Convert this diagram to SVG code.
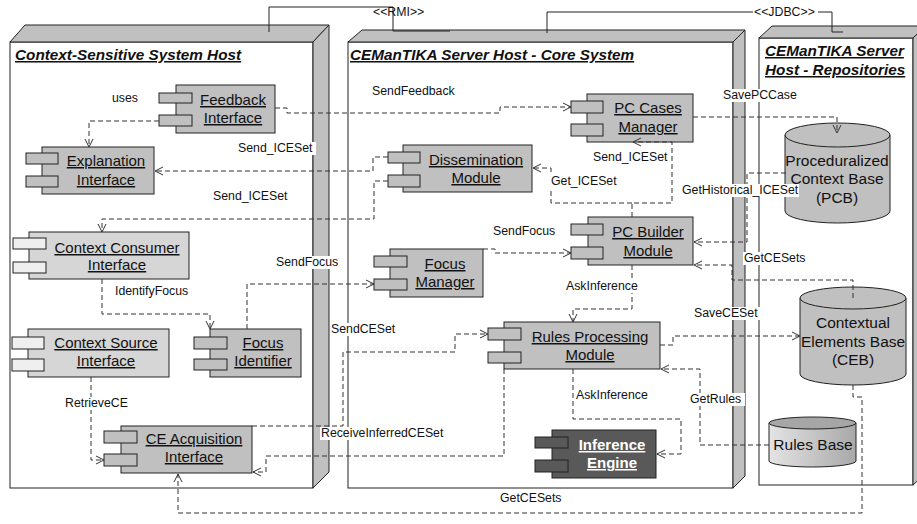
<svg xmlns="http://www.w3.org/2000/svg" width="917" height="524" viewBox="0 0 917 524">
<defs>
<marker id="arr" markerWidth="10" markerHeight="10" refX="8" refY="4" orient="auto" markerUnits="userSpaceOnUse" overflow="visible">
<path d="M0,0 L8,4 L0,8" fill="none" stroke="#333" stroke-width="1" stroke-dasharray="none"/>
</marker>
<linearGradient id="rbg" x1="0" y1="0" x2="1" y2="0">
<stop offset="0" stop-color="#e4e4e4"/>
<stop offset="1" stop-color="#a8a8a8"/>
</linearGradient>
</defs>
<style>
.host{fill:#fff;stroke:#222;stroke-width:1}
.face{fill:#c0c0c0;stroke:#222;stroke-width:1}
.cm{fill:#c0c0c0;stroke:#222;stroke-width:1}
.cl{fill:#d6d6d6;stroke:#222;stroke-width:1}
.cs{fill:#efefef;stroke:#222;stroke-width:1}
.cd{fill:#595959;stroke:#222;stroke-width:1}
.db{fill:#c0c0c0;stroke:#222;stroke-width:1}
.t{font-family:"Liberation Sans",Arial,sans-serif;font-size:15px;fill:#111;text-anchor:middle;text-decoration:underline}
.tw{font-family:"Liberation Sans",Arial,sans-serif;font-size:15px;font-weight:bold;fill:#fff;text-anchor:middle;text-decoration:underline}
.ti{font-family:"Liberation Sans",Arial,sans-serif;font-size:15.3px;font-weight:bold;font-style:italic;text-decoration:underline;fill:#111}
.dt{font-family:"Liberation Sans",Arial,sans-serif;font-size:15.5px;fill:#111;text-anchor:middle}
.l{font-family:"Liberation Sans",Arial,sans-serif;font-size:12.3px;fill:#111}
.c{fill:none;stroke:#333;stroke-width:1;stroke-dasharray:5 3}
.s{fill:none;stroke:#222;stroke-width:1}
.bg{fill:#fff}
</style>

<g id="host-css">
<rect class="host" x="10" y="42" width="303" height="446"/>
<polygon class="face" points="10,42 25,25 329,25 313,42"/>
<polygon class="face" points="313,42 329,25 329,472 313,488"/>
<text class="ti" x="15" y="60">Context-Sensitive System Host</text>
</g>

<g id="host-core">
<rect class="host" x="348" y="42" width="385" height="446"/>
<polygon class="face" points="348,42 362,30 745,30 733,42"/>
<polygon class="face" points="733,42 745,30 745,476 733,488"/>
<text class="ti" x="350" y="60">CEManTIKA Server Host - Core System</text>
</g>

<g id="host-repo">
<rect class="host" x="759" y="38" width="154" height="447"/>
<polygon class="face" points="759,38 772,26 926,26 913,38"/>
<polygon class="face" points="913,38 926,26 926,473 913,485"/>
<text class="ti" x="765" y="56">CEManTIKA Server</text>
<text class="ti" x="765" y="75">Host - Repositories</text>
</g>

<g id="feedback-interface">
<rect class="cm" x="176" y="85" width="99" height="48"/>
<rect class="cm" x="159" y="93" width="33" height="10"/>
<rect class="cm" x="159" y="115" width="33" height="11"/>
<text class="t" x="233" y="105">Feedback</text>
<text class="t" x="233" y="123">Interface</text>
</g>

<g id="explanation-interface">
<rect class="cm" x="42" y="147" width="112" height="47"/>
<rect class="cm" x="26" y="153" width="32" height="11"/>
<rect class="cm" x="26" y="176" width="32" height="11"/>
<text class="t" x="106" y="166">Explanation</text>
<text class="t" x="106" y="185">Interface</text>
</g>

<g id="context-consumer-interface">
<rect class="cl" x="29" y="232" width="160" height="47"/>
<rect class="cs" x="13" y="238" width="33" height="11"/>
<rect class="cs" x="13" y="262" width="33" height="11"/>
<text class="t" x="117" y="253">Context Consumer</text>
<text class="t" x="117" y="270">Interface</text>
</g>

<g id="context-source-interface">
<rect class="cl" x="28" y="329" width="141" height="48"/>
<rect class="cs" x="12" y="337" width="32" height="12"/>
<rect class="cs" x="12" y="359" width="32" height="12"/>
<text class="t" x="106" y="348">Context Source</text>
<text class="t" x="106" y="366">Interface</text>
</g>

<g id="focus-identifier">
<rect class="cm" x="210" y="329" width="91" height="48"/>
<rect class="cm" x="194" y="337" width="33" height="12"/>
<rect class="cm" x="194" y="359" width="33" height="11"/>
<text class="t" x="263" y="348">Focus</text>
<text class="t" x="263" y="366">Identifier</text>
</g>

<g id="ce-acquisition-interface">
<rect class="cm" x="121" y="426" width="131" height="47"/>
<rect class="cm" x="104" y="431" width="33" height="12"/>
<rect class="cm" x="104" y="454" width="33" height="12"/>
<text class="t" x="194" y="444">CE Acquisition</text>
<text class="t" x="194" y="462">Interface</text>
</g>

<g id="pc-cases-manager">
<rect class="cm" x="587" y="94" width="106" height="48"/>
<rect class="cm" x="571" y="101" width="32" height="12"/>
<rect class="cm" x="571" y="124" width="32" height="12"/>
<text class="t" x="648" y="113">PC Cases</text>
<text class="t" x="648" y="132">Manager</text>
</g>

<g id="dissemination-module">
<rect class="cm" x="403" y="145" width="129" height="47"/>
<rect class="cm" x="388" y="152" width="32" height="11"/>
<rect class="cm" x="388" y="175" width="32" height="12"/>
<text class="t" x="476" y="165">Dissemination</text>
<text class="t" x="476" y="183">Module</text>
</g>

<g id="pc-builder-module">
<rect class="cm" x="588" y="217" width="105" height="48"/>
<rect class="cm" x="571" y="224" width="32" height="11"/>
<rect class="cm" x="571" y="247" width="32" height="12"/>
<text class="t" x="648" y="237">PC Builder</text>
<text class="t" x="648" y="256">Module</text>
</g>

<g id="focus-manager">
<rect class="cm" x="390" y="249" width="93" height="48"/>
<rect class="cm" x="374" y="256" width="33" height="11"/>
<rect class="cm" x="374" y="279" width="33" height="11"/>
<text class="t" x="445" y="269">Focus</text>
<text class="t" x="445" y="287">Manager</text>
</g>

<g id="rules-processing-module">
<rect class="cm" x="504" y="322" width="156" height="47"/>
<rect class="cm" x="488" y="328" width="33" height="12"/>
<rect class="cm" x="488" y="352" width="33" height="11"/>
<text class="t" x="590" y="342">Rules Processing</text>
<text class="t" x="590" y="360">Module</text>
</g>

<g id="inference-engine">
<rect class="cd" x="552" y="430" width="104" height="48"/>
<rect class="cd" x="535" y="437" width="33" height="11"/>
<rect class="cd" x="535" y="460" width="33" height="12"/>
<text class="tw" x="612" y="450">Inference</text>
<text class="tw" x="612" y="468">Engine</text>
</g>

<g id="pcb">
<path class="db" d="M785,135 V211 A52.5,12 0 0 0 890,211 V135 Z"/>
<ellipse class="db" cx="837.5" cy="135" rx="52.5" ry="12"/>
<text class="dt" x="837" y="166">Proceduralized</text>
<text class="dt" x="837" y="184">Context Base</text>
<text class="dt" x="837" y="203">(PCB)</text>
</g>

<g id="ceb">
<path class="db" d="M800,298 V374 A53,11 0 0 0 906,374 V298 Z"/>
<ellipse class="db" cx="853" cy="298" rx="53" ry="11"/>
<text class="dt" x="853" y="328">Contextual</text>
<text class="dt" x="853" y="347">Elements Base</text>
<text class="dt" x="853" y="365">(CEB)</text>
</g>

<g id="rules-base">
<path d="M769,423 V461 A43.5,6 0 0 0 856,461 V423 Z" fill="url(#rbg)" stroke="#222"/>
<ellipse cx="812.5" cy="423" rx="43.5" ry="6" fill="#a6a6a6" stroke="#222"/>
<text class="dt" x="813" y="450">Rules Base</text>
</g>

<g id="connectors">
<path class="s" d="M269,32 V7 H393 V31 H450"/>
<path class="s" d="M547,33 V12 H832 V32 H843"/>
<path class="c" marker-end="url(#arr)" d="M159,121 H89 V147"/>
<path class="c" marker-end="url(#arr)" d="M275,108 H287 V113 H500 V107 H571"/>
<path class="c" marker-end="url(#arr)" d="M693,117 H837 V133"/>
<path class="c" marker-end="url(#arr)" d="M632,217 V203 H672 V142 H633"/>
<path class="c" marker-end="url(#arr)" d="M632,203 H551 V168 H533"/>
<path class="c" marker-end="url(#arr)" d="M388,157 H373 V171 H155"/>
<path class="c" marker-end="url(#arr)" d="M388,181 H374 V219 H102 V232"/>
<path class="c" marker-end="url(#arr)" d="M102,279 V314 H210 V329"/>
<path class="c" marker-end="url(#arr)" d="M247,329 V284 H374"/>
<path class="c" marker-end="url(#arr)" d="M483,249 H495 V253 H571"/>
<path class="c" marker-end="url(#arr)" d="M632,265 V309 H573 V322"/>
<path class="c" marker-end="url(#arr)" d="M91,377 V460 H104"/>
<path class="c" marker-end="url(#arr)" d="M252,426 H343 V352 H455 V334 H488"/>
<path class="c" marker-end="url(#arr)" d="M504,369 V456 H266 V472 H253"/>
<path class="c" marker-end="url(#arr)" d="M573,369 V419 H681 V454 H657"/>
<path class="c" marker-end="url(#arr)" d="M660,345 H673 V336 H800"/>
<path class="c" marker-end="url(#arr)" d="M769,445 H700 V369 H661"/>
<path class="c" marker-end="url(#arr)" d="M853,385 V397 H862 V513 H178 V474"/>
<path class="c" marker-end="url(#arr)" d="M786,173 H747 V242 H694"/>
<path class="c" marker-end="url(#arr)" d="M853,298 V280 H732 V265 H694"/>
</g>

<g id="labels">
<text class="l" x="373" y="16">&lt;&lt;RMI&gt;&gt;</text>
<rect class="bg" x="753" y="6" width="65" height="12"/>
<text class="l" x="754" y="16">&lt;&lt;JDBC&gt;&gt;</text>
<text class="l" x="112" y="102">uses</text>
<text class="l" x="372" y="95">SendFeedback</text>
<rect class="bg" x="722" y="89" width="78" height="13"/>
<text class="l" x="723" y="99">SavePCCase</text>
<text class="l" x="593" y="161">Send_ICESet</text>
<rect class="bg" x="550" y="175" width="68" height="13"/>
<text class="l" x="551" y="185">Get_ICESet</text>
<rect class="bg" x="237" y="142" width="79" height="13"/>
<text class="l" x="238" y="152">Send_ICESet</text>
<text class="l" x="213" y="200">Send_ICESet</text>
<rect class="bg" x="681" y="184" width="118" height="13"/>
<text class="l" x="682" y="194">GetHistorical_ICESet</text>
<text class="l" x="115" y="295">IdentifyFocus</text>
<rect class="bg" x="275" y="256" width="66" height="13"/>
<text class="l" x="276" y="266">SendFocus</text>
<text class="l" x="493" y="235">SendFocus</text>
<rect class="bg" x="565" y="280" width="76" height="13"/>
<text class="l" x="566" y="290">AskInference</text>
<rect class="bg" x="743" y="252" width="66" height="13"/>
<text class="l" x="744" y="262">GetCESets</text>
<rect class="bg" x="693" y="307" width="67" height="13"/>
<text class="l" x="694" y="317">SaveCESet</text>
<rect class="bg" x="330" y="323" width="68" height="13"/>
<text class="l" x="331" y="333">SendCESet</text>
<rect class="bg" x="64" y="397" width="65" height="13"/>
<text class="l" x="65" y="407">RetrieveCE</text>
<rect class="bg" x="320" y="427" width="129" height="13"/>
<text class="l" x="321" y="437">ReceiveInferredCESet</text>
<text class="l" x="576" y="399">AskInference</text>
<rect class="bg" x="689" y="393" width="56" height="13"/>
<text class="l" x="690" y="403">GetRules</text>
<text class="l" x="500" y="502">GetCESets</text>
</g>
</svg>
